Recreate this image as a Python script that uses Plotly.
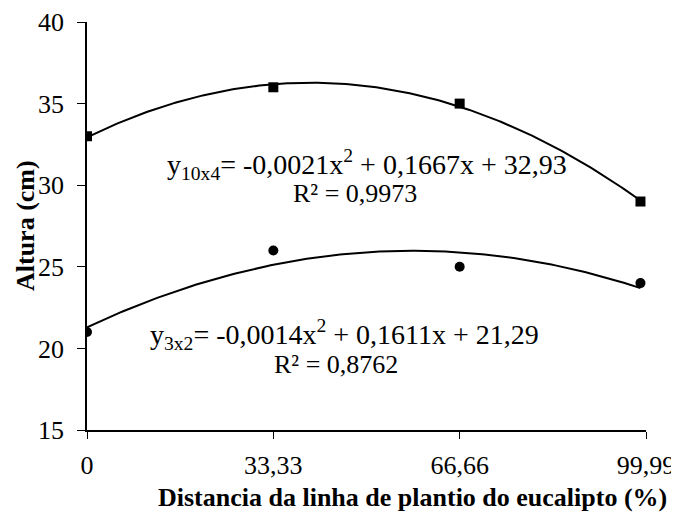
import numpy as np
import plotly.graph_objects as go

# Data
x_pts = [0, 33.33, 66.66, 99.0]
y_10x4 = [33, 36, 35, 29]
y_3x2 = [21, 26, 25, 24]

x_ticks = [0, 33.33, 66.66, 99.99]
x_ticklabels = ["0", "33,33", "66,66", "99,99"]
y_ticks = [15, 20, 25, 30, 35, 40]

eq_10x4 = "y<sub>10x4</sub>= -0,0021x<sup>2</sup> + 0,1667x + 32,93"
r2_10x4 = "R² = 0,9973"
eq_3x2 = "y<sub>3x2</sub>= -0,0014x<sup>2</sup> + 0,1611x + 21,29"
r2_3x2 = "R² = 0,8762"

x_title = "Distancia da linha de plantio do eucalipto (%)"
y_title = "Altura (cm)"

FONT = "Times New Roman, Liberation Serif, Tinos, DejaVu Serif, serif"

# Polynomial (order 2) trendlines, fitted from the points
xs = np.linspace(min(x_pts), max(x_pts), 200)
c1 = np.polyfit(x_pts, y_10x4, 2)
c2 = np.polyfit(x_pts, y_3x2, 2)

fig = go.Figure()
fig.add_trace(go.Scatter(x=xs, y=np.polyval(c1, xs), mode="lines",
                         line=dict(color="black", width=2), hoverinfo="skip"))
fig.add_trace(go.Scatter(x=xs, y=np.polyval(c2, xs), mode="lines",
                         line=dict(color="black", width=2), hoverinfo="skip"))
fig.add_trace(go.Scatter(x=x_pts, y=y_10x4, mode="markers",
                         marker=dict(symbol="square", size=10, color="black")))
fig.add_trace(go.Scatter(x=x_pts, y=y_3x2, mode="markers",
                         marker=dict(symbol="circle", size=10, color="black")))

# page body has an 8px margin; compensate so the picture lands at target pixels
OFF = 8
W, H = 679 - OFF, 512 - OFF
L, R, T, B = 87 - OFF, 33, 22 - OFF, 82
pw, ph = W - L - R, H - T - B

def px(x):
    return (x - OFF - L) / pw

def py(y):
    return (H - B - (y - OFF)) / ph

EQF = dict(size=28, family=FONT, color="black")
ann = [
    dict(text=eq_10x4, x=px(165), y=py(164), xanchor="left", yanchor="middle", font=EQF),
    dict(text=r2_10x4, x=px(355), y=py(194), xanchor="center", yanchor="middle"),
    dict(text=eq_3x2, x=px(148), y=py(334), xanchor="left", yanchor="middle", font=EQF),
    dict(text=r2_3x2, x=px(336), y=py(364), xanchor="center", yanchor="middle"),
    dict(text="<b>" + x_title + "</b>", x=px(412), y=py(497), xanchor="center",
         yanchor="middle", font=dict(size=26, family=FONT, color="black")),
    dict(text="<b>" + y_title + "</b>", x=px(25), y=py(226), xanchor="center",
         yanchor="middle", textangle=-90, font=dict(size=26, family=FONT, color="black")),
]
for a in ann:
    a.update(xref="paper", yref="paper", showarrow=False)
    a.setdefault("font", dict(size=26, family=FONT, color="black"))

fig.update_layout(
    width=W, height=H,
    margin=dict(l=L, r=R, t=T, b=B, autoexpand=False),
    paper_bgcolor="white", plot_bgcolor="white",
    showlegend=False,
    font=dict(family=FONT, size=26, color="black"),
    annotations=ann,
    xaxis=dict(range=[0, 99.99], tickvals=x_ticks, ticktext=x_ticklabels,
               showline=True, linecolor="black", linewidth=1.5,
               ticks="outside", ticklen=7, tickcolor="black", tickwidth=1,
               showgrid=False, zeroline=False, ticklabelstandoff=4,
               automargin=False, tickfont=dict(family=FONT, size=26, color="black")),
    yaxis=dict(range=[15, 40], tickvals=y_ticks,
               showline=True, linecolor="black", linewidth=1.5,
               ticks="outside", ticklen=8, tickcolor="black", tickwidth=1,
               showgrid=False, zeroline=False, ticklabelstandoff=8,
               automargin=False, tickfont=dict(family=FONT, size=26, color="black")),
)

fig.write_html("out.html")
